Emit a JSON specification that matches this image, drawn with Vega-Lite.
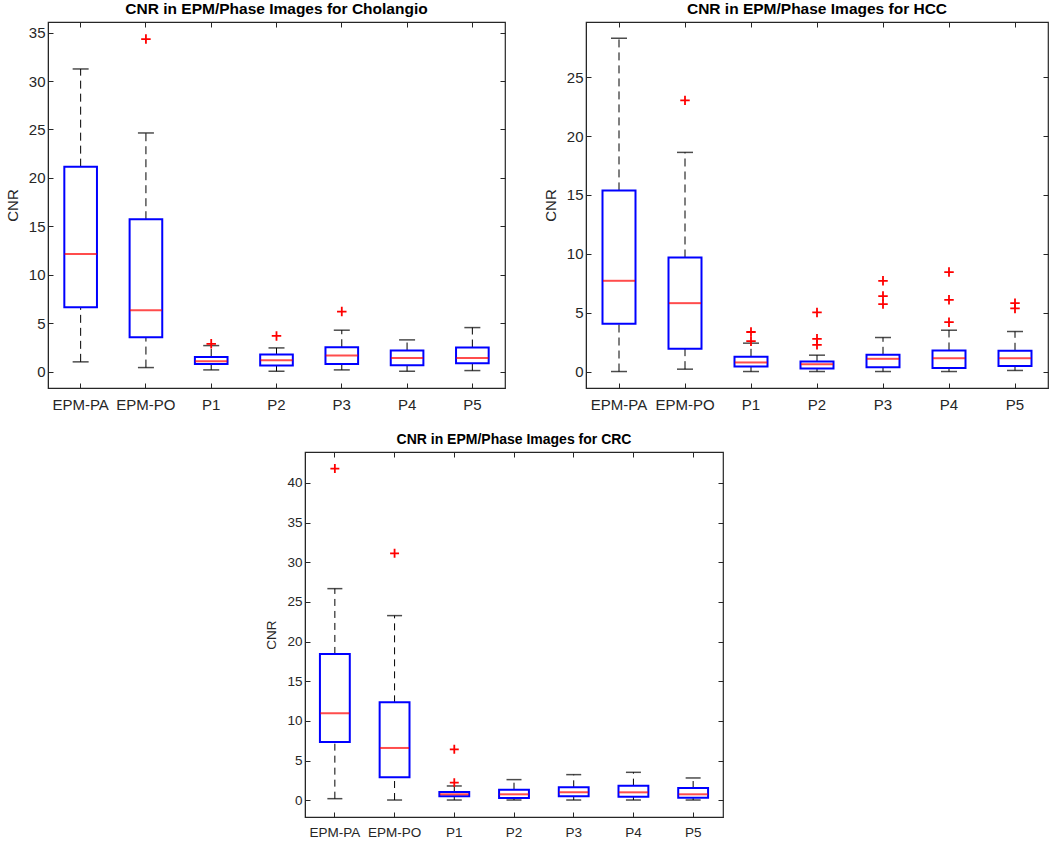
{
  "$schema": "https://vega.github.io/schema/vega-lite/v6.json",
  "padding": {"left": 4, "top": 1, "right": 0, "bottom": 0},
  "background": "white",
  "datasets": {
    "chol_box": [
      {"cat": "EPM-PA", "lo": 1.0, "q1": 6.64, "med": 12.15, "q3": 21.16, "hi": 31.25},
      {"cat": "EPM-PO", "lo": 0.41, "q1": 3.54, "med": 6.33, "q3": 15.73, "hi": 24.64},
      {"cat": "P1", "lo": 0.17, "q1": 0.79, "med": 1.07, "q3": 1.51, "hi": 2.68},
      {"cat": "P2", "lo": 0.03, "q1": 0.62, "med": 1.17, "q3": 1.75, "hi": 2.44},
      {"cat": "P3", "lo": 0.17, "q1": 0.79, "med": 1.65, "q3": 2.51, "hi": 4.27},
      {"cat": "P4", "lo": 0.03, "q1": 0.65, "med": 1.41, "q3": 2.17, "hi": 3.27},
      {"cat": "P5", "lo": 0.10, "q1": 0.86, "med": 1.41, "q3": 2.48, "hi": 4.54}
    ],
    "chol_out": [
      {"cat": "EPM-PO", "v": 34.34},
      {"cat": "P1", "v": 2.86},
      {"cat": "P2", "v": 3.68},
      {"cat": "P3", "v": 6.19}
    ],
    "hcc_box": [
      {"cat": "EPM-PA", "lo": 0.0, "q1": 4.05, "med": 7.71, "q3": 15.39, "hi": 28.32},
      {"cat": "EPM-PO", "lo": 0.20, "q1": 1.93, "med": 5.81, "q3": 9.69, "hi": 18.62},
      {"cat": "P1", "lo": 0.0, "q1": 0.43, "med": 0.77, "q3": 1.25, "hi": 2.41},
      {"cat": "P2", "lo": 0.0, "q1": 0.26, "med": 0.62, "q3": 0.85, "hi": 1.39},
      {"cat": "P3", "lo": 0.0, "q1": 0.37, "med": 1.08, "q3": 1.42, "hi": 2.89},
      {"cat": "P4", "lo": 0.0, "q1": 0.31, "med": 1.13, "q3": 1.79, "hi": 3.51},
      {"cat": "P5", "lo": 0.09, "q1": 0.48, "med": 1.13, "q3": 1.76, "hi": 3.40}
    ],
    "hcc_out": [
      {"cat": "EPM-PO", "v": 23.04},
      {"cat": "P1", "v": 3.36},
      {"cat": "P1", "v": 2.58},
      {"cat": "P2", "v": 5.02},
      {"cat": "P2", "v": 2.78},
      {"cat": "P2", "v": 2.27},
      {"cat": "P3", "v": 7.71},
      {"cat": "P3", "v": 6.41},
      {"cat": "P3", "v": 5.73},
      {"cat": "P4", "v": 8.45},
      {"cat": "P4", "v": 6.09},
      {"cat": "P4", "v": 4.19},
      {"cat": "P5", "v": 5.81},
      {"cat": "P5", "v": 5.36}
    ],
    "crc_box": [
      {"cat": "EPM-PA", "lo": 0.21, "q1": 7.35, "med": 10.97, "q3": 18.45, "hi": 26.68},
      {"cat": "EPM-PO", "lo": 0.04, "q1": 2.90, "med": 6.60, "q3": 12.35, "hi": 23.28},
      {"cat": "P1", "lo": 0.04, "q1": 0.50, "med": 0.76, "q3": 1.05, "hi": 1.81},
      {"cat": "P2", "lo": 0.04, "q1": 0.29, "med": 0.76, "q3": 1.34, "hi": 2.61},
      {"cat": "P3", "lo": 0.04, "q1": 0.50, "med": 1.01, "q3": 1.64, "hi": 3.24},
      {"cat": "P4", "lo": 0.04, "q1": 0.46, "med": 1.01, "q3": 1.85, "hi": 3.53},
      {"cat": "P5", "lo": 0.04, "q1": 0.34, "med": 0.76, "q3": 1.55, "hi": 2.82}
    ],
    "crc_out": [
      {"cat": "EPM-PA", "v": 41.81},
      {"cat": "EPM-PO", "v": 31.13},
      {"cat": "P1", "v": 6.43},
      {"cat": "P1", "v": 2.23}
    ]
  },
  "vconcat": [
    {
      "spacing": 35,
      "hconcat": [
        {
          "width": 457, "height": 366,
          "title": {"text": "CNR in EPM/Phase Images for Cholangio"},
          "layer": [
            {"data": {"name": "chol_box"}, "mark": {"type": "rule", "color": "black", "strokeDash": [8, 5], "strokeWidth": 1},
             "encoding": {
               "x": {"field": "cat", "type": "nominal", "scale": {"domain": ["EPM-PA", "EPM-PO", "P1", "P2", "P3", "P4", "P5"], "paddingInner": 0, "paddingOuter": 0}, "axis": {"title": null, "labelAngle": 0, "labelPadding": 14, "orient": "bottom"}},
               "y": {"field": "lo", "type": "quantitative", "scale": {"domain": [-1.7, 36.1], "nice": false, "zero": false}, "axis": {"title": "CNR", "values": [0, 5, 10, 15, 20, 25, 30, 35], "labelPadding": 8, "titlePadding": 8}},
               "y2": {"field": "q1"}}},
            {"data": {"name": "chol_box"}, "mark": {"type": "rule", "color": "black", "strokeDash": [8, 5], "strokeWidth": 1},
             "encoding": {"x": {"field": "cat", "type": "nominal", "axis": null}, "y": {"field": "q3", "type": "quantitative", "axis": null}, "y2": {"field": "hi"}}},
            {"data": {"name": "chol_box"}, "mark": {"type": "tick", "color": "black", "size": 16, "thickness": 1.5},
             "encoding": {"x": {"field": "cat", "type": "nominal", "axis": null}, "y": {"field": "lo", "type": "quantitative", "axis": null}}},
            {"data": {"name": "chol_box"}, "mark": {"type": "tick", "color": "black", "size": 16, "thickness": 1.5},
             "encoding": {"x": {"field": "cat", "type": "nominal", "axis": null}, "y": {"field": "hi", "type": "quantitative", "axis": null}}},
            {"data": {"name": "chol_box"}, "mark": {"type": "bar", "width": {"band": 0.5}, "fill": "white", "stroke": "#0000FF", "strokeWidth": 2},
             "encoding": {"x": {"field": "cat", "type": "nominal", "axis": null}, "y": {"field": "q1", "type": "quantitative", "axis": null}, "y2": {"field": "q3"}}},
            {"data": {"name": "chol_box"}, "mark": {"type": "tick", "color": "#FF0000", "size": 32, "thickness": 2},
             "encoding": {"x": {"field": "cat", "type": "nominal", "axis": null}, "y": {"field": "med", "type": "quantitative", "axis": null}}},
            {"data": {"name": "chol_out"}, "mark": {"type": "point", "shape": "M-1,0L1,0M0,-1L0,1", "filled": false, "stroke": "#FF0000", "strokeWidth": 1.8, "size": 90, "opacity": 1},
             "encoding": {"x": {"field": "cat", "type": "nominal", "axis": null}, "y": {"field": "v", "type": "quantitative", "axis": null}}},
            {"data": {"name": "chol_box"}, "mark": {"type": "tick", "opacity": 0},
             "encoding": {
               "x": {"field": "cat", "type": "nominal", "axis": {"orient": "top", "labels": false, "title": null, "domain": false}},
               "y": {"field": "med", "type": "quantitative", "axis": {"orient": "right", "labels": false, "title": null, "domain": false, "values": [0, 5, 10, 15, 20, 25, 30, 35]}}}}
          ],
          "resolve": {"axis": {"x": "independent", "y": "independent"}}
        },
        {
          "width": 462, "height": 366,
          "title": {"text": "CNR in EPM/Phase Images for HCC"},
          "layer": [
            {"data": {"name": "hcc_box"}, "mark": {"type": "rule", "color": "black", "strokeDash": [8, 5], "strokeWidth": 1},
             "encoding": {
               "x": {"field": "cat", "type": "nominal", "scale": {"domain": ["EPM-PA", "EPM-PO", "P1", "P2", "P3", "P4", "P5"], "paddingInner": 0, "paddingOuter": 0}, "axis": {"title": null, "labelAngle": 0, "labelPadding": 14, "orient": "bottom"}},
               "y": {"field": "lo", "type": "quantitative", "scale": {"domain": [-1.4, 29.7], "nice": false, "zero": false}, "axis": {"title": "CNR", "values": [0, 5, 10, 15, 20, 25], "labelPadding": 8, "titlePadding": 8}},
               "y2": {"field": "q1"}}},
            {"data": {"name": "hcc_box"}, "mark": {"type": "rule", "color": "black", "strokeDash": [8, 5], "strokeWidth": 1},
             "encoding": {"x": {"field": "cat", "type": "nominal", "axis": null}, "y": {"field": "q3", "type": "quantitative", "axis": null}, "y2": {"field": "hi"}}},
            {"data": {"name": "hcc_box"}, "mark": {"type": "tick", "color": "black", "size": 16, "thickness": 1.5},
             "encoding": {"x": {"field": "cat", "type": "nominal", "axis": null}, "y": {"field": "lo", "type": "quantitative", "axis": null}}},
            {"data": {"name": "hcc_box"}, "mark": {"type": "tick", "color": "black", "size": 16, "thickness": 1.5},
             "encoding": {"x": {"field": "cat", "type": "nominal", "axis": null}, "y": {"field": "hi", "type": "quantitative", "axis": null}}},
            {"data": {"name": "hcc_box"}, "mark": {"type": "bar", "width": {"band": 0.5}, "fill": "white", "stroke": "#0000FF", "strokeWidth": 2},
             "encoding": {"x": {"field": "cat", "type": "nominal", "axis": null}, "y": {"field": "q1", "type": "quantitative", "axis": null}, "y2": {"field": "q3"}}},
            {"data": {"name": "hcc_box"}, "mark": {"type": "tick", "color": "#FF0000", "size": 32, "thickness": 2},
             "encoding": {"x": {"field": "cat", "type": "nominal", "axis": null}, "y": {"field": "med", "type": "quantitative", "axis": null}}},
            {"data": {"name": "hcc_out"}, "mark": {"type": "point", "shape": "M-1,0L1,0M0,-1L0,1", "filled": false, "stroke": "#FF0000", "strokeWidth": 1.8, "size": 90, "opacity": 1},
             "encoding": {"x": {"field": "cat", "type": "nominal", "axis": null}, "y": {"field": "v", "type": "quantitative", "axis": null}}},
            {"data": {"name": "hcc_box"}, "mark": {"type": "tick", "opacity": 0},
             "encoding": {
               "x": {"field": "cat", "type": "nominal", "axis": {"orient": "top", "labels": false, "title": null, "domain": false}},
               "y": {"field": "med", "type": "quantitative", "axis": {"orient": "right", "labels": false, "title": null, "domain": false, "values": [0, 5, 10, 15, 20, 25]}}}}
          ],
          "resolve": {"axis": {"x": "independent", "y": "independent"}}
        }
      ]
    },
    {
      "spacing": 20,
      "hconcat": [
        {"width": 196, "height": 20, "data": {"values": [{}]}, "mark": {"type": "point", "opacity": 0}, "encoding": {}, "view": {"stroke": null}},
        {
          "width": 418, "height": 365,
          "title": {"text": "CNR in EPM/Phase Images for CRC", "fontSize": 14, "offset": 5},
          "layer": [
            {"data": {"name": "crc_box"}, "mark": {"type": "rule", "color": "black", "strokeDash": [7, 5], "strokeWidth": 1},
             "encoding": {
               "x": {"field": "cat", "type": "nominal", "scale": {"domain": ["EPM-PA", "EPM-PO", "P1", "P2", "P3", "P4", "P5"], "paddingInner": 0, "paddingOuter": 0}, "axis": {"title": null, "labelAngle": 0, "labelPadding": 13, "labelFontSize": 13.5, "orient": "bottom"}},
               "y": {"field": "lo", "type": "quantitative", "scale": {"domain": [-2.1, 43.9], "nice": false, "zero": false}, "axis": {"title": "CNR", "values": [0, 5, 10, 15, 20, 25, 30, 35, 40], "labelPadding": 8, "titlePadding": 8, "labelFontSize": 13.5, "titleFontSize": 13.5}},
               "y2": {"field": "q1"}}},
            {"data": {"name": "crc_box"}, "mark": {"type": "rule", "color": "black", "strokeDash": [7, 5], "strokeWidth": 1},
             "encoding": {"x": {"field": "cat", "type": "nominal", "axis": null}, "y": {"field": "q3", "type": "quantitative", "axis": null}, "y2": {"field": "hi"}}},
            {"data": {"name": "crc_box"}, "mark": {"type": "tick", "color": "black", "size": 15, "thickness": 1.5},
             "encoding": {"x": {"field": "cat", "type": "nominal", "axis": null}, "y": {"field": "lo", "type": "quantitative", "axis": null}}},
            {"data": {"name": "crc_box"}, "mark": {"type": "tick", "color": "black", "size": 15, "thickness": 1.5},
             "encoding": {"x": {"field": "cat", "type": "nominal", "axis": null}, "y": {"field": "hi", "type": "quantitative", "axis": null}}},
            {"data": {"name": "crc_box"}, "mark": {"type": "bar", "width": {"band": 0.5}, "fill": "white", "stroke": "#0000FF", "strokeWidth": 2},
             "encoding": {"x": {"field": "cat", "type": "nominal", "axis": null}, "y": {"field": "q1", "type": "quantitative", "axis": null}, "y2": {"field": "q3"}}},
            {"data": {"name": "crc_box"}, "mark": {"type": "tick", "color": "#FF0000", "size": 29, "thickness": 2},
             "encoding": {"x": {"field": "cat", "type": "nominal", "axis": null}, "y": {"field": "med", "type": "quantitative", "axis": null}}},
            {"data": {"name": "crc_out"}, "mark": {"type": "point", "shape": "M-1,0L1,0M0,-1L0,1", "filled": false, "stroke": "#FF0000", "strokeWidth": 1.8, "size": 80, "opacity": 1},
             "encoding": {"x": {"field": "cat", "type": "nominal", "axis": null}, "y": {"field": "v", "type": "quantitative", "axis": null}}},
            {"data": {"name": "crc_box"}, "mark": {"type": "tick", "opacity": 0},
             "encoding": {
               "x": {"field": "cat", "type": "nominal", "axis": {"orient": "top", "labels": false, "title": null, "domain": false}},
               "y": {"field": "med", "type": "quantitative", "axis": {"orient": "right", "labels": false, "title": null, "domain": false, "values": [0, 5, 10, 15, 20, 25, 30, 35, 40]}}}}
          ],
          "resolve": {"axis": {"x": "independent", "y": "independent"}}
        }
      ]
    }
  ],
  "spacing": 18,
  "config": {
    "font": "Liberation Sans",
    "view": {"stroke": "#262626", "strokeWidth": 1.2},
    "axis": {
      "labelFont": "Liberation Sans", "labelFontSize": 15, "labelColor": "#262626",
      "titleFont": "Liberation Sans", "titleFontSize": 15, "titleFontWeight": "normal", "titleColor": "#262626",
      "domainColor": "#262626", "tickColor": "#262626", "tickSize": -5, "grid": false
    },
    "title": {"font": "Liberation Sans", "fontSize": 15.5, "fontWeight": "bold", "color": "black", "offset": 4}
  }
}
